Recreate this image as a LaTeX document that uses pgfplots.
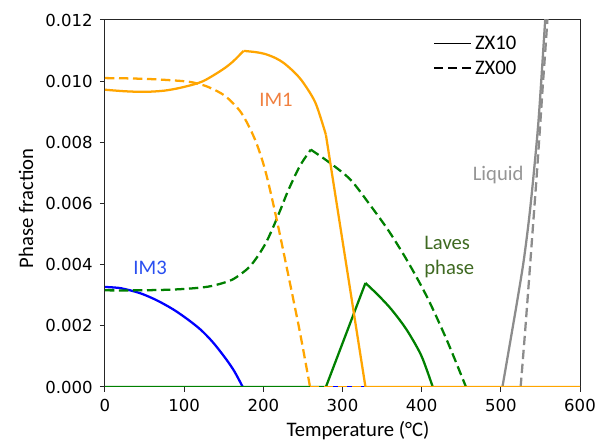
\documentclass[border=0pt]{standalone}
\usepackage{fontspec}
\setmainfont{DejaVu Sans}
\newfontfamily\carlito{Carlito}
\usepackage{pgfplots}
\pgfplotsset{compat=1.18}
\definecolor{Orange}{HTML}{FFA500}
\definecolor{Green}{HTML}{008000}
\definecolor{Blue}{HTML}{0000FF}
\definecolor{Gray}{HTML}{8C8C8C}
\definecolor{IMone}{HTML}{F08040}
\definecolor{IMthree}{HTML}{2A4FF0}
\definecolor{LavesTxt}{HTML}{3F6A22}
\definecolor{LiqTxt}{HTML}{959595}
\definecolor{Spine}{HTML}{262626}

\pgfplotstableread{
x y
0 0.00972
25 0.00967
50 0.00965
75 0.00969
98 0.00980
123 0.00999
148 0.01037
162 0.01065
175 0.01099
190 0.01095
202 0.01089
215 0.01076
226 0.01059
240 0.01027
251 0.00993
266 0.00928
279 0.00825
329 0
600 0
}\imonesolid

\pgfplotstableread{
x y
0 0.01010
30 0.01009
64 0.01006
103 0.00999
120 0.00990
133 0.00978
152 0.00951
172 0.00897
189 0.00812
202 0.00712
216 0.00558
232 0.00360
246 0.00182
259 0
600 0
}\imonedash

\pgfplotstableread{
x y
0 0.00327
20 0.00323
44 0.00307
65 0.00284
86 0.00254
104 0.00222
121 0.00187
136 0.00147
151 0.00098
163 0.00053
174 0
600 0
}\imthree

\pgfplotstableread{
x y
0 0.00316
40 0.00316
80 0.00318
108 0.00322
130 0.00328
145 0.00337
160 0.00350
172 0.00370
183 0.00394
193 0.00428
203 0.00470
212 0.00520
222 0.00582
231 0.00640
246 0.00722
260 0.00776
284 0.00733
310 0.00678
334 0.00598
359 0.00508
384 0.00403
408 0.00288
432 0.00152
456 0
600 0
}\lavesdash

\pgfplotstableread{
x y
0 0
279 0
329 0.00340
344 0.00303
359 0.00262
372 0.00220
384 0.00175
400 0.00100
414 0
600 0
}\lavessolid

\pgfplotstableread{
x y
0 0
502 0
511 0.00135
521 0.00286
529 0.00415
536 0.00558
542 0.00710
548 0.00885
556 0.01200
558 0.01290
}\liqsolid

\pgfplotstableread{
x y
0 0
525 0
530 0.00160
535 0.00330
540 0.00505
545 0.00680
549 0.00830
553 0.00985
557 0.01130
561 0.01290
}\liqdash

\pgfplotsset{
  crv/.style={forget plot,line width=1.7pt},
  dsh/.style={dash pattern=on 7pt off 3.5pt},
  sm/.style={smooth,tension=0.5},
}

\begin{document}
\begin{tikzpicture}
\begin{axis}[
  at={(0pt,0pt)},anchor=south west,
  scale only axis,width=356.25pt,height=275.25pt,
  xmin=0,xmax=600,ymin=0,ymax=0.012,
  xtick={0,100,200,300,400,500,600},
  xticklabels={0,100,200,300,400,500,600},
  ytick={0,0.002,0.004,0.006,0.008,0.010,0.012},
  yticklabels={0.000,0.002,0.004,0.006,0.008,0.010,0.012},
  scaled y ticks=false,
  xtick pos=bottom,ytick pos=left,
  tick align=outside,major tick length=3.75pt,
  tick style={draw=Spine,line width=0.75pt},
  axis line style={draw=Spine,line width=0.75pt},
  ticklabel style={font=\fontsize{12.4}{12.4}\selectfont},
  xticklabel style={yshift=-2pt},
  yticklabel style={xshift=-2pt},
  xlabel={Temperature (°C)},
  ylabel={Phase fraction},
  xlabel style={font=\carlito\fontsize{15.5}{15.5}\selectfont,at={(axis description cs:0.5326,0)},anchor=base,yshift=-37.3pt},
  ylabel style={font=\carlito\fontsize{15.5}{15.5}\selectfont,at={(axis description cs:-0.166,0.487)},anchor=center},
  legend style={draw=none,fill=none,at={(rel axis cs:0.69,0.902)},anchor=west,
    font=\carlito\fontsize{15.5}{15.5}\selectfont,row sep=3pt,inner sep=0pt,
    cells={anchor=west}},
  legend image code/.code={\draw[#1] (0pt,0pt) -- (28pt,0pt);},
]
\addlegendimage{black,line width=1.1pt}
\addlegendentry{ZX10}
\addlegendimage{black,line width=1.5pt,dash pattern=on 6.5pt off 4pt}
\addlegendentry{ZX00}

% liquid
\addplot[crv,Gray] table[restrict x to domain=0:502] {\liqsolid};
\addplot[crv,Gray,sm] table[restrict x to domain=502:560] {\liqsolid};
\addplot[crv,Gray,dsh] table[restrict x to domain=0:525] {\liqdash};
\addplot[crv,Gray,dsh,sm] table[restrict x to domain=525:565] {\liqdash};
% IM3
\addplot[crv,Blue,sm] table[restrict x to domain=0:174] {\imthree};
\addplot[crv,Blue] table[restrict x to domain=174:600] {\imthree};
% Laves
\addplot[crv,Green] table[restrict x to domain=0:329] {\lavessolid};
\addplot[crv,Green,sm] table[restrict x to domain=329:414] {\lavessolid};
\addplot[crv,Green] table[restrict x to domain=414:600] {\lavessolid};
\addplot[crv,Green,dsh,sm] table[restrict x to domain=0:260] {\lavesdash};
\addplot[crv,Green,dsh,sm] table[restrict x to domain=260:456] {\lavesdash};
\addplot[crv,Green,dsh] table[restrict x to domain=456:600] {\lavesdash};
% IM1
\addplot[crv,Orange,sm] table[restrict x to domain=0:175] {\imonesolid};
\addplot[crv,Orange,sm] table[restrict x to domain=175:279] {\imonesolid};
\addplot[crv,Orange] table[restrict x to domain=279:600] {\imonesolid};
\addplot[crv,Orange,dsh,sm] table[restrict x to domain=0:259] {\imonedash};
\addplot[crv,Orange,dsh] table[restrict x to domain=259:600] {\imonedash};

\node[IMone,font=\carlito\fontsize{15.5}{15.5}\selectfont] at (axis cs:216,0.00938) {IM1};
\node[IMthree,font=\carlito\fontsize{15.5}{15.5}\selectfont] at (axis cs:57,0.00388) {IM3};
\node[LavesTxt,font=\carlito\fontsize{15.5}{18.5}\selectfont,align=left,anchor=west,inner sep=0pt] at (axis cs:403,0.00426) {Laves\\phase};
\node[LiqTxt,font=\carlito\fontsize{15.5}{15.5}\selectfont,anchor=east,inner sep=0pt] at (axis cs:529,0.00693) {Liquid};
\end{axis}
\pgfresetboundingbox
\useasboundingbox (-78.75pt,-40.5pt) rectangle (375.75pt,290.25pt);
\end{tikzpicture}
\end{document}
